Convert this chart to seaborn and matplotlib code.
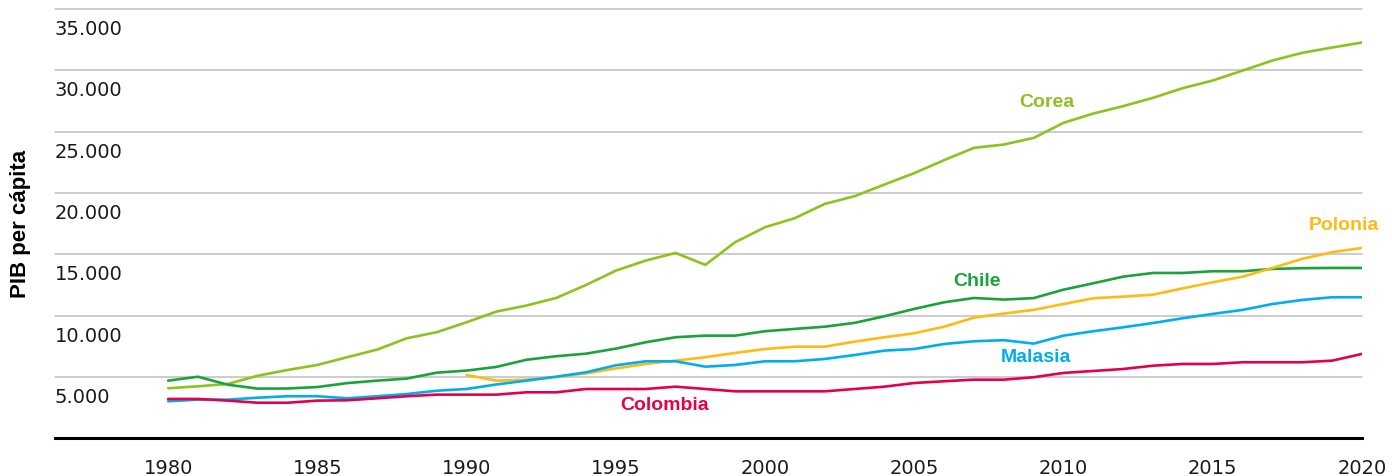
import matplotlib
matplotlib.use("Agg")
import matplotlib.pyplot as plt
import seaborn as sns
import pandas as pd
from matplotlib.ticker import FuncFormatter
from matplotlib.transforms import ScaledTranslation

years = list(range(1980, 2021))
polonia_years = list(range(1990, 2021))

corea = [4080, 4240, 4430, 5100, 5570, 5980, 6610, 7230, 8160, 8650,
         9460, 10330, 10820, 11440, 12500, 13670, 14490, 15110, 14140, 15990,
         17210, 17950, 19110, 19740, 20690, 21620, 22680, 23680, 23950, 24490,
         25720, 26480, 27080, 27760, 28550, 29170, 29980, 30800, 31430, 31860,
         32270]
chile = [4700, 5020, 4370, 4050, 4060, 4180, 4500, 4700, 4870, 5350,
         5520, 5820, 6400, 6690, 6900, 7310, 7830, 8240, 8370, 8370,
         8730, 8920, 9100, 9410, 9950, 10550, 11090, 11440, 11310, 11430,
         12120, 12640, 13180, 13480, 13480, 13620, 13620, 13810, 13870, 13890,
         13890]
polonia = [5160, 4700, 4780, 5000, 5290, 5690, 6060, 6330, 6610, 6960,
           7280, 7470, 7470, 7880, 8240, 8560, 9100, 9840, 10170, 10470,
           10950, 11420, 11550, 11710, 12230, 12720, 13180, 13890, 14630, 15170,
           15520]
malasia = [3020, 3150, 3150, 3310, 3430, 3430, 3260, 3430, 3610, 3880,
           4020, 4390, 4700, 5020, 5380, 5950, 6280, 6280, 5840, 5980,
           6280, 6280, 6470, 6790, 7150, 7280, 7690, 7910, 8000, 7720,
           8370, 8730, 9050, 9400, 9790, 10140, 10470, 10950, 11280, 11500,
           11500]
colombia = [3210, 3210, 3070, 2900, 2900, 3070, 3100, 3260, 3430, 3560,
            3560, 3560, 3750, 3750, 4020, 4020, 4020, 4210, 4020, 3830,
            3830, 3830, 3830, 4020, 4210, 4510, 4650, 4780, 4780, 4980,
            5330, 5490, 5650, 5920, 6060, 6060, 6200, 6200, 6200, 6330,
            6880]

countries = ["Corea", "Chile", "Polonia", "Malasia", "Colombia"]
colors = {"Corea": "#8DC21F", "Chile": "#1BA33B", "Polonia": "#FDBB13",
          "Malasia": "#00AEEF", "Colombia": "#E4004B"}
label_pos = {"Corea": (2009.45, 27100), "Chile": (2007.1, 12500),
             "Polonia": (2019.38, 17070), "Malasia": (2009.06, 6330),
             "Colombia": (1996.63, 2390)}
x_ticks = list(range(1980, 2021, 5))
y_ticks = list(range(5000, 35001, 5000))

series = {"Corea": (years, corea), "Chile": (years, chile),
          "Polonia": (polonia_years, polonia), "Malasia": (years, malasia),
          "Colombia": (years, colombia)}
df = pd.concat([pd.DataFrame({"year": yr, "value": v, "country": c})
                for c, (yr, v) in series.items()], ignore_index=True)

sns.set_theme(style="white")
plt.rcParams["font.family"] = ["DejaVu Sans"]

W, H = 1392, 477
fig = plt.figure(figsize=(W / 100, H / 100), dpi=100)
ax = fig.add_axes([55 / W, 37.7 / H, (1362 - 55) / W, (467 - 37.7) / H])

sns.lineplot(data=df, x="year", y="value", hue="country", hue_order=countries,
             palette=colors, linewidth=1.9, legend=False, estimator=None, ax=ax)

ax.set_xlim(1976.21, 2020)
ax.set_ylim(0, 35000)
ax.set_xticks(x_ticks)
ax.set_yticks(y_ticks)
ax.yaxis.set_major_formatter(FuncFormatter(lambda v, p: f"{int(v):,}".replace(",", ".")))
ax.set_xlabel("")
ax.set_ylabel("")

ax.grid(axis="y", color="#BEBEBE", linewidth=1.1)
ax.grid(axis="x", visible=False)
ax.set_axisbelow(True)
for gl in ax.get_ygridlines():
    gl.set_clip_on(False)

for s in ["left", "right", "top"]:
    ax.spines[s].set_visible(False)
ax.spines["bottom"].set_color("#000000")
ax.spines["bottom"].set_linewidth(2.2)

ax.tick_params(axis="x", length=0, pad=14.5, labelsize=14, labelcolor="#1a1a1a")
ax.tick_params(axis="y", length=0, pad=0, labelsize=14, labelcolor="#1a1a1a")
for lab in ax.get_yticklabels():
    lab.set_horizontalalignment("left")
    lab.set_verticalalignment("top")
    lab.set_transform(lab.get_transform() + ScaledTranslation(0, -0.1, fig.dpi_scale_trans))

for c in countries:
    x, y = label_pos[c]
    ax.text(x, y, c, color=colors[c], fontsize=14, fontweight="bold",
            family=["Liberation Sans", "DejaVu Sans"], ha="center", va="baseline")

fig.text(21 / W, (H - 224) / H, "PIB per cápita", rotation=90, ha="center", va="center",
         fontsize=16, fontweight="bold", family=["Liberation Sans", "DejaVu Sans"],
         color="#000000")

fig.savefig("out.png", dpi=100, facecolor="white")
